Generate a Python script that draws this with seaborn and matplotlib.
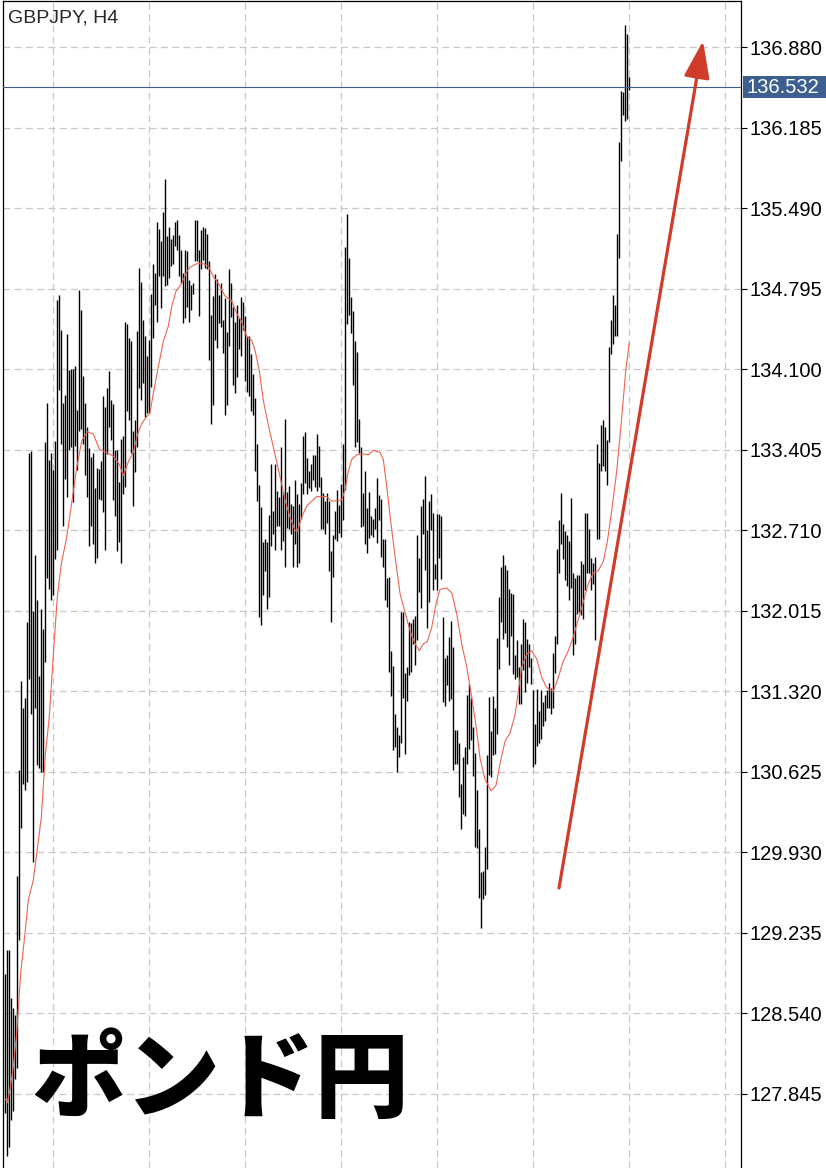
import matplotlib
matplotlib.use('Agg')
import matplotlib.pyplot as plt
from matplotlib.patches import Rectangle, FancyArrowPatch
import numpy as np
import seaborn as sns

sns.set_theme(style='white')
plt.rcParams['font.family'] = ['Liberation Sans', 'DejaVu Sans']

# chart texts
symbol_label = 'GBPJPY, H4'
title_jp = 'ポンド円'
last_price = 136.532
price_ticks = ['136.880', '136.185', '135.490', '134.795', '134.100', '133.405', '132.710',
               '132.015', '131.320', '130.625', '129.930', '129.235', '128.540', '127.845']

# H4 bars (high / low)
bar_high = [
    128.88, 129.09, 129.09, 128.67, 128.59, 128.53, 129.73, 130.64, 131.41, 131.18,
    131.26, 131.92, 133.38, 133.39, 132.01, 132.50, 132.11, 131.45, 132.03, 131.86,
    133.47, 133.81, 133.32, 133.38, 133.23, 133.48, 134.70, 134.74, 134.44, 133.81,
    133.88, 134.40, 134.09, 134.10, 134.10, 134.13, 133.75, 134.78, 134.61, 134.04,
    133.81, 133.60, 133.42, 133.34, 133.38, 133.07, 133.25, 133.24, 133.31, 133.87,
    133.77, 133.94, 134.08, 133.83, 133.80, 133.40, 133.40, 133.13, 133.50, 133.52,
    134.51, 134.49, 134.37, 134.34, 133.57, 133.66, 134.43, 134.97, 134.85, 134.52,
    134.39, 134.21, 134.35, 134.75, 135.01, 134.93, 135.37, 135.31, 135.21, 135.46,
    135.74, 135.25, 135.33, 135.22, 135.26, 135.37, 135.39, 135.26, 135.13, 134.93,
    135.13, 135.12, 134.87, 134.83, 134.84, 135.39, 135.39, 135.13, 135.30, 135.33,
    135.32, 135.27, 135.03, 134.57, 134.73, 134.92, 134.88, 134.74, 134.84, 134.52,
    134.71, 134.42, 134.96, 134.84, 134.64, 134.51, 134.65, 134.54, 134.72, 134.68,
    134.56, 134.39, 134.39, 134.23, 134.06, 133.85, 133.45, 133.10, 132.91, 132.61,
    132.63, 132.61, 132.84, 133.28, 132.88, 133.28, 133.05, 133.00, 133.43, 133.04,
    133.67, 133.04, 133.09, 132.94, 132.92, 133.14, 133.02, 132.94, 133.12, 133.52,
    133.56, 133.33, 133.22, 133.28, 133.36, 133.36, 133.54, 133.44, 133.17, 133.03,
    132.96, 133.03, 132.96, 132.53, 132.67, 132.88, 133.06, 132.93, 133.11, 133.45,
    135.15, 135.44, 135.06, 134.72, 134.60, 134.34, 134.25, 133.67, 133.43, 133.03,
    133.22, 132.90, 133.04, 132.83, 132.81, 132.90, 133.16, 133.01, 132.98, 132.63,
    132.63, 132.30, 132.31, 131.67, 131.54, 131.12, 131.01, 130.94, 132.00, 132.00,
    131.48, 131.53, 131.92, 131.91, 131.94, 131.97, 132.67, 132.47, 132.92, 132.98,
    133.18, 132.71, 132.96, 133.02, 132.86, 132.42, 132.85, 132.85, 132.83, 131.96,
    131.61, 131.63, 131.79, 131.93, 131.70, 130.99, 130.99, 130.87, 130.52, 130.75,
    130.84, 131.29, 131.38, 131.26, 131.01, 130.79, 130.47, 130.13, 129.76, 129.77,
    129.98, 130.77, 131.27, 130.98, 131.28, 131.18, 131.78, 132.13, 132.39, 132.50,
    132.41, 132.37, 132.20, 132.17, 132.16, 131.63, 131.76, 131.53, 131.73, 131.94,
    131.92, 131.77, 131.73, 131.61, 131.33, 131.04, 131.34, 131.15, 131.33, 131.23,
    131.29, 131.33, 131.39, 131.35, 131.65, 131.80, 132.55, 132.80, 133.03, 132.76,
    132.70, 132.67, 132.62, 132.99, 132.34, 132.30, 132.32, 132.32, 132.44, 132.42,
    132.86, 132.86, 132.72, 132.47, 132.43, 132.48, 133.45, 133.29, 133.62, 133.66,
    133.60, 133.49, 134.29, 134.52, 134.74, 134.65, 135.27, 136.06, 136.50, 136.49,
    137.07, 136.99, 136.62,
]
bar_low = [
    127.68, 127.31, 127.39, 127.62, 127.70, 127.97, 128.07, 129.17, 130.14, 130.52,
    130.47, 130.54, 131.43, 131.12, 129.85, 131.18, 130.68, 130.66, 130.62, 130.62,
    131.57, 132.30, 132.20, 132.11, 132.15, 132.46, 132.54, 133.92, 133.45, 132.75,
    133.15, 133.00, 133.40, 133.43, 132.95, 133.44, 133.23, 133.57, 133.58, 133.45,
    133.19, 133.00, 132.57, 132.75, 132.59, 132.43, 132.47, 132.98, 132.97, 132.87,
    132.54, 133.37, 133.60, 133.49, 132.97, 132.83, 132.53, 132.61, 132.43, 133.02,
    133.08, 133.74, 133.66, 133.38, 132.92, 133.21, 133.43, 133.94, 133.83, 133.98,
    133.69, 133.72, 133.72, 133.95, 134.37, 134.65, 134.51, 134.90, 134.63, 134.90,
    134.82, 134.83, 134.89, 134.99, 135.01, 135.16, 135.13, 134.90, 134.84, 134.50,
    134.54, 134.64, 134.51, 134.61, 134.75, 135.03, 135.03, 134.56, 134.96, 135.04,
    134.97, 134.96, 134.18, 133.63, 133.79, 134.35, 134.28, 134.50, 134.46, 134.24,
    133.70, 133.79, 134.30, 134.55, 133.96, 133.89, 134.03, 134.27, 134.21, 134.44,
    134.00, 133.90, 133.87, 133.74, 133.70, 133.22, 132.96, 131.96, 131.89, 132.15,
    132.36, 132.03, 132.13, 132.57, 132.68, 132.54, 132.75, 132.75, 132.54, 132.62,
    132.39, 132.73, 132.72, 132.68, 132.39, 132.59, 132.39, 132.43, 132.81, 133.02,
    133.12, 133.02, 133.07, 133.05, 133.14, 133.08, 133.05, 133.08, 132.72, 132.72,
    132.68, 132.77, 132.36, 131.92, 132.31, 132.63, 132.62, 132.69, 132.65, 132.80,
    133.06, 134.49, 134.57, 134.41, 133.96, 133.43, 133.47, 133.38, 132.74, 132.75,
    132.59, 132.51, 132.64, 132.67, 132.65, 132.72, 132.60, 132.80, 132.48, 132.39,
    132.11, 132.05, 131.49, 131.28, 130.81, 130.84, 130.62, 130.75, 130.87, 131.26,
    130.78, 131.24, 131.46, 131.49, 131.73, 131.55, 131.76, 132.18, 132.04, 132.68,
    132.37, 131.87, 132.09, 132.71, 132.19, 132.29, 132.19, 132.47, 132.29, 131.23,
    131.19, 131.37, 131.24, 131.25, 130.64, 130.69, 130.69, 130.41, 130.13, 130.26,
    130.24, 130.69, 130.82, 130.90, 130.59, 129.98, 129.97, 129.54, 129.28, 129.53,
    129.56, 129.79, 130.60, 130.58, 130.77, 130.78, 130.95, 131.51, 131.92, 131.77,
    131.82, 131.70, 131.55, 131.80, 131.47, 131.43, 131.44, 131.21, 131.21, 131.50,
    131.31, 131.39, 131.53, 131.38, 130.67, 130.69, 130.85, 130.87, 130.91, 131.02,
    131.06, 131.18, 131.18, 131.12, 131.18, 131.48, 131.73, 132.34, 132.59, 132.46,
    132.28, 132.23, 132.11, 132.21, 131.63, 131.73, 131.99, 132.00, 131.98, 131.94,
    132.19, 132.34, 132.34, 132.19, 132.25, 131.76, 132.63, 132.63, 133.22, 133.26,
    133.22, 133.10, 133.47, 134.23, 134.32, 134.39, 134.39, 135.06, 135.90, 136.29,
    136.24, 136.26, 136.51,
]

# moving average (bar position, price)
ma_pos = [0, 1, 2.3, 4, 5.7, 7.7, 9.9, 11.5, 14, 16, 18, 20, 22, 24, 26, 28, 30.7, 33,
          35.7, 38.2, 41, 44, 47, 50.7, 54, 57, 59, 61.5, 64, 66, 68.2, 70.7, 72.3, 74,
          76.5, 79, 81.5, 83.2, 85.3, 88.2, 90.7, 92.3, 95.7, 99, 101.5, 104, 106.5,
          109.9, 113.2, 115.7, 118.2, 120.7, 123.2, 124.9, 127, 129, 131.5, 134.4, 137.4,
          139.9, 142.4, 144.9, 146, 148.2, 150.7, 153.2, 155.7, 160.7, 163.2, 168.2,
          169.9, 171.5, 173.2, 175.7, 179, 181.5, 184, 187.4, 189, 190.7, 192.4, 194.9,
          197.4, 199.9, 202.4, 204.9, 207, 209, 211, 213.2, 215.4, 217.4, 220.7, 223.2,
          225.7, 228.2, 230.7, 233.2, 235.7, 237.4, 239.9, 242.9, 245.4, 247.4, 249.9,
          252.4, 254.9, 256.5, 258.2, 260.7, 263.2, 265.7, 268.2, 270.7, 274, 276.5, 279,
          281.5, 284, 286.5, 289, 291.5, 294, 296.5, 299, 301, 303.2, 305.7, 308.2,
          310.3, 312]
ma_price = [127.80, 127.77, 127.88, 128.08, 128.37, 128.89, 129.24, 129.52, 129.69, 129.96,
            130.23, 130.77, 131.10, 131.63, 132.13, 132.42, 132.65, 132.92, 133.25, 133.48,
            133.56, 133.54, 133.41, 133.38, 133.35, 133.28, 133.18, 133.30, 133.38, 133.53,
            133.63, 133.69, 133.72, 133.89, 134.12, 134.34, 134.47, 134.64, 134.77, 134.84,
            134.94, 134.98, 135.01, 135.01, 134.99, 134.90, 134.84, 134.73, 134.69, 134.58,
            134.51, 134.38, 134.35, 134.26, 134.09, 133.83, 133.62, 133.40, 133.17, 132.97,
            132.82, 132.71, 132.70, 132.82, 132.92, 132.96, 133.00, 133.00, 132.96, 132.97,
            133.06, 133.22, 133.32, 133.36, 133.37, 133.36, 133.40, 133.38, 133.32, 133.09,
            132.83, 132.48, 132.16, 132.00, 131.84, 131.73, 131.67, 131.73, 131.75, 131.87,
            132.08, 132.20, 132.21, 132.17, 131.99, 131.73, 131.53, 131.27, 130.98, 130.74,
            130.56, 130.46, 130.51, 130.70, 130.89, 130.96, 131.12, 131.32, 131.53, 131.64,
            131.67, 131.60, 131.44, 131.35, 131.32, 131.44, 131.58, 131.67, 131.79, 131.94,
            132.09, 132.25, 132.34, 132.36, 132.44, 132.61, 132.88, 133.22, 133.68, 134.10,
            134.33]

W, H = 826, 1168
fig = plt.figure(figsize=(W / 100, H / 100), dpi=100)
fig.patch.set_facecolor('white')
ax = fig.add_axes([3 / W, 0, 738 / W, 1167 / H])
ax.set_facecolor('white')

grid_kw = dict(color='#c8c8c8', lw=0.9, ls=(0, (5.5, 3.5)), zorder=0)
for t in price_ticks:
    ax.axhline(float(t), **grid_kw)
for gx in np.arange(24, 368, 48):
    ax.axvline(gx, **grid_kw)

idx = np.arange(len(bar_high))
ax.vlines(idx, bar_low, bar_high, colors='black', lw=1.0, zorder=2)

sns.lineplot(x=ma_pos, y=ma_price, ax=ax, color='#ef6451', lw=0.8,
             sort=False, estimator=None, zorder=3)

ax.axhline(last_price, color='#3d5f8f', lw=0.8, zorder=4)

ax.set_xlim(-1.15, 367.85)
ax.set_ylim(127.206, 137.277)
ax.set_xticks([])
ax.yaxis.tick_right()
ax.set_yticks([float(t) for t in price_ticks])
ax.set_yticklabels(price_ticks)
ax.tick_params(axis='y', direction='out', length=4, width=0.8, pad=2,
               labelsize=14.5, colors='black', right=True)
for side in ['left', 'right', 'top']:
    ax.spines[side].set_visible(True)
    ax.spines[side].set_color('black')
    ax.spines[side].set_linewidth(0.9)
ax.spines['bottom'].set_visible(False)
ax.set_xlabel('')
ax.set_ylabel('')

# current price tag on the scale
fig.canvas.draw()
y_disp = ax.transData.transform((0, last_price))[1]
y_fig = y_disp / fig.bbox.height
tag_h = 22 / H
fig.patches.append(Rectangle((743 / W, y_fig - tag_h / 2), 83 / W, tag_h,
                             transform=fig.transFigure, facecolor='#3d5f8f',
                             edgecolor='none', zorder=5))
fig.text(747 / W, y_fig, f'{last_price:.3f}', color='white', fontsize=14.5,
         va='center', ha='left', zorder=6)

fig.text(8 / W, 1 - 18 / H, symbol_label, fontsize=14, va='center', ha='left')

fig.text(220 / W, 1 - 1082 / H, title_jp, fontsize=68, fontweight='heavy',
         family=['Noto Sans CJK JP', 'DejaVu Sans'], ha='center', va='center',
         color='black', zorder=7)

arrow = FancyArrowPatch((559 / W, 1 - 888 / H), (703 / W, 1 - 41 / H),
                        transform=fig.transFigure,
                        arrowstyle='-|>,head_length=0.95,head_width=0.33',
                        mutation_scale=24, color='#d13b29', lw=2.3,
                        shrinkA=0, shrinkB=0, zorder=8)
fig.patches.append(arrow)

fig.savefig('out.png', dpi=100, facecolor='white')
